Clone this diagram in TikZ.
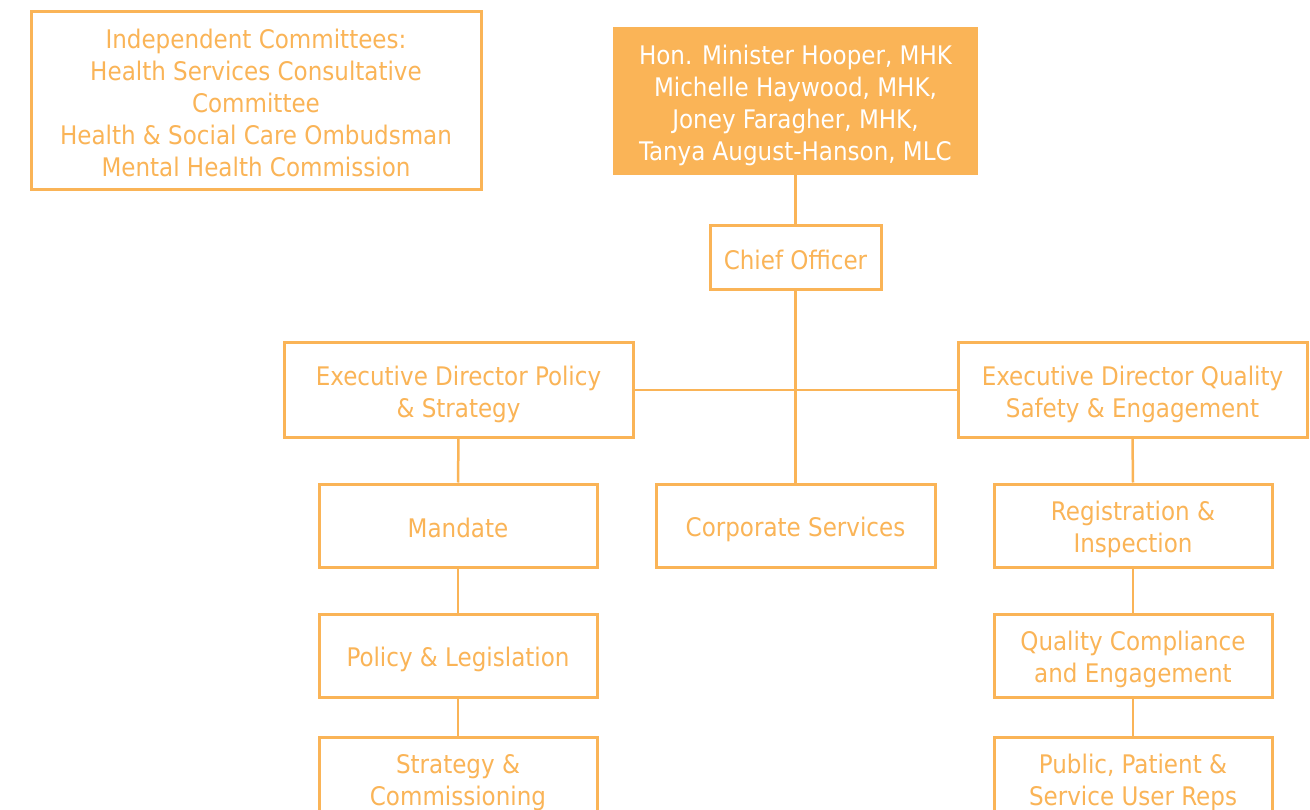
\documentclass[tikz,border=0pt]{standalone}
\usepackage{fontspec}
\setmainfont{DejaVu Sans Condensed}
\definecolor{orgorange}{HTML}{FAB457}
% invisible rules that fix the height of the first and the depth of the last text line
\newcommand\lnstrut{\rule[-4.2pt]{0pt}{32pt}}
\newcommand\lntop{\rule{0pt}{27.8pt}}
\newcommand\lndepth{\rule[-4.2pt]{0pt}{4.2pt}}
\begin{document}
\begin{tikzpicture}[x=1pt,y=-1pt,
  every node/.style={font=\fontsize{25.6}{32}\selectfont, align=center, inner sep=0pt},
  box/.style={draw=orgorange, line width=3pt, text=orgorange, fill=white},
  headbox/.style={fill=orgorange, text=white},
  link/.style={draw=orgorange, line width=2.5pt}]
\useasboundingbox (0,0) rectangle (1310,810);
\clip (0,0) rectangle (1310,810);

% top level
\node[box, minimum width=450, minimum height=178] (indep) at (256,101)
  {\lntop Independent Committees:\\Health Services Consultative\\Committee\\Health \& Social Care Ombudsman\\Mental Health Commission\lndepth};
\node[headbox, minimum width=365, minimum height=148] (minister) at (795.5,101)
  {\lntop Hon. Minister Hooper, MHK\\Michelle Haywood, MHK,\\Joney Faragher, MHK,\\Tanya August-Hanson, MLC\lndepth};
\node[box, minimum width=171, minimum height=64] (chief) at (795.5,258) {\lnstrut Chief Officer};

% directors
\node[box, minimum width=349, minimum height=94] (edps) at (458.5,390) {\lntop Executive Director Policy\\\& Strategy\lndepth};
\node[box, minimum width=349, minimum height=94] (edqs) at (1132.5,390) {\lntop Executive Director Quality\\Safety \& Engagement\lndepth};
\node[box, minimum width=279, minimum height=83] (corp) at (795.5,525.5) {\lnstrut Corporate Services};

% left column
\node[box, minimum width=278, minimum height=83] (mandate) at (458,525.5) {\lnstrut Mandate};
\node[box, minimum width=278, minimum height=83] (policy) at (458,655.5) {\lnstrut Policy \& Legislation};
\node[box, minimum width=278, minimum height=83] (strategy) at (458,778.5) {\lntop Strategy \&\\Commissioning\lndepth};

% right column
\node[box, minimum width=278, minimum height=83] (reg) at (1133,525.5) {\lntop Registration \&\\Inspection\lndepth};
\node[box, minimum width=278, minimum height=83] (qce) at (1133,655.5) {\lntop Quality Compliance\\and Engagement\lndepth};
\node[box, minimum width=278, minimum height=83] (reps) at (1133,778.5) {\lntop Public, Patient \&\\Service User Reps\lndepth};

% connectors
\draw[link] (minister.south) -- (chief.north);
\draw[link] (chief.south) -- (corp.north);
\draw[link] (edps.east) -- (edqs.west);
\draw[link] (edps.south) -- (mandate.north);
\draw[link] (mandate.south) -- (policy.north);
\draw[link] (policy.south) -- (strategy.north);
\draw[link] (edqs.south) -- (reg.north);
\draw[link] (reg.south) -- (qce.north);
\draw[link] (qce.south) -- (reps.north);
\end{tikzpicture}
\end{document}
